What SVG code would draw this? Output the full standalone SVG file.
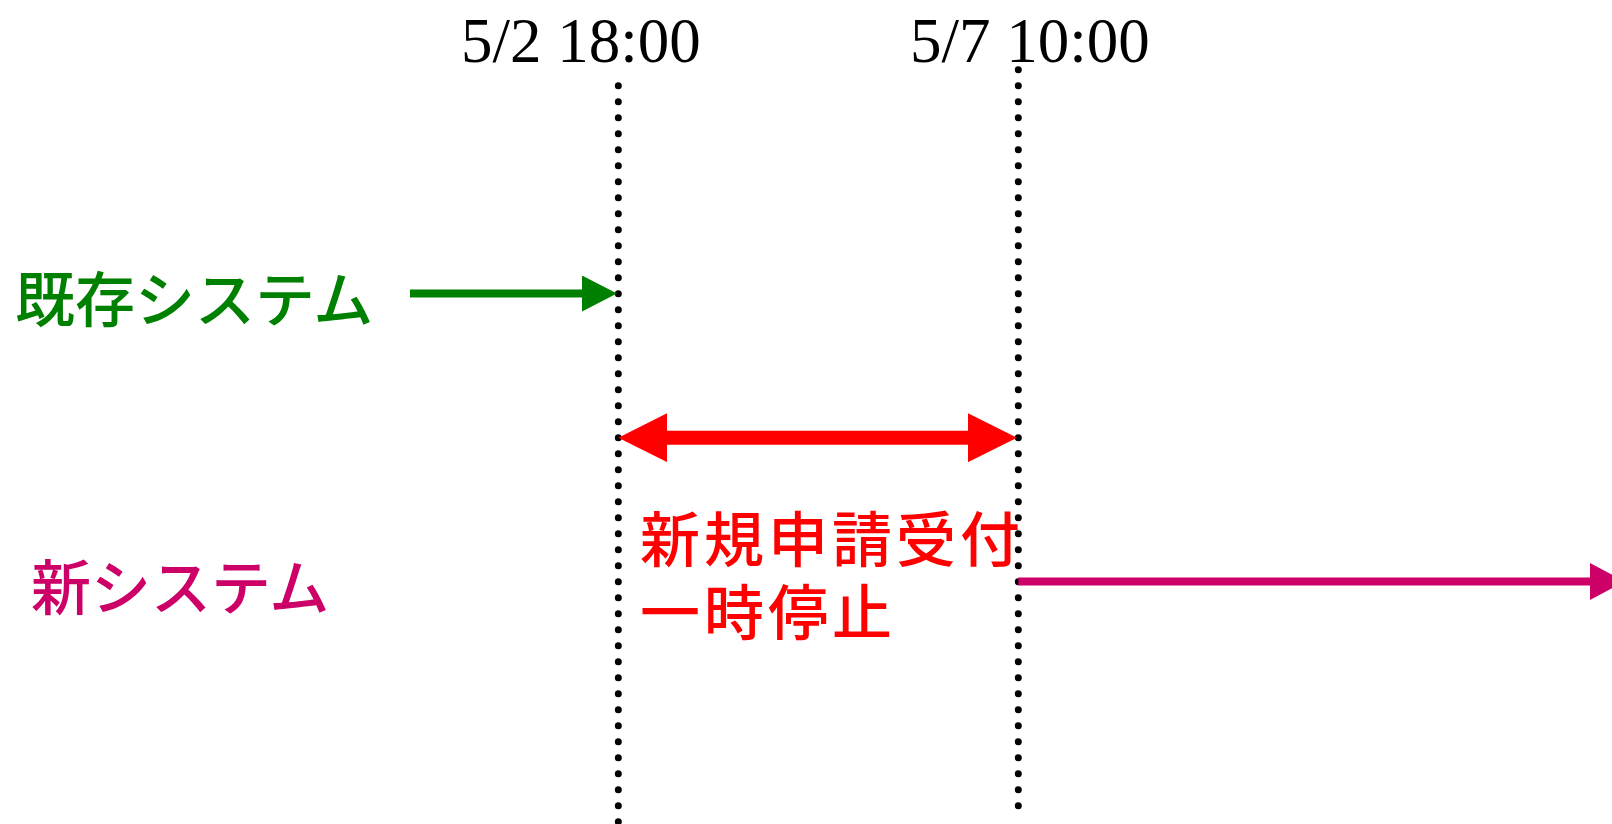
<svg xmlns="http://www.w3.org/2000/svg" width="1612" height="824" viewBox="0 0 1612 824">
  <style>
    .time { font-family: "Liberation Serif", "Times New Roman", serif; font-size: 63px; fill: #000; }
    .jp { font-family: "Noto Sans CJK JP", "Noto Sans", sans-serif; font-size: 60px; font-weight: 500; }
    .dot { fill: none; stroke: #000; stroke-width: 7; stroke-linecap: round; stroke-dasharray: 0 16; }
  </style>
  <defs>
    <marker id="mGreen" markerUnits="userSpaceOnUse" viewBox="0 0 35 36" refX="15" refY="18" markerWidth="35" markerHeight="36" orient="auto">
      <path d="M0 0 L35 18 L0 36 Z" fill="#008000"/>
    </marker>
    <marker id="mMag" markerUnits="userSpaceOnUse" viewBox="0 0 35 37" refX="15" refY="18.5" markerWidth="35" markerHeight="37" orient="auto">
      <path d="M0 0 L35 18.5 L0 37 Z" fill="#cc0066"/>
    </marker>
    <marker id="mRed" markerUnits="userSpaceOnUse" viewBox="0 0 49 49" refX="19" refY="24.5" markerWidth="49" markerHeight="49" orient="auto-start-reverse">
      <path d="M0 0 L49 24.5 L0 49 Z" fill="#ff0000"/>
    </marker>
  </defs>

  <g id="timeline-5-2">
    <text class="time" x="461" y="61.5">5/2 18:00</text>
    <path class="dot" d="M618.3 85.7 V 840"/>
  </g>

  <g id="timeline-5-7">
    <text class="time" x="910" y="61.5">5/7 10:00</text>
    <path class="dot" d="M1018.3 69.7 V 806"/>
  </g>

  <g id="existing-system">
    <text class="jp" x="15" y="322" fill="#008000">既存システム</text>
  </g>

  <g id="new-system">
    <text class="jp" x="31" y="610" fill="#cc0066">新システム</text>
  </g>

  <g id="suspension">
    <text class="jp" x="640" y="562" fill="#ff0000" letter-spacing="4">新規申請受付</text>
    <text class="jp" x="640" y="635" fill="#ff0000" letter-spacing="4">一時停止</text>
  </g>

  <g id="connectors">
    <path d="M410 293.5 H 597" stroke="#008000" stroke-width="8" fill="none" marker-end="url(#mGreen)"/>
    <path d="M648.3 437.7 H 987" stroke="#ff0000" stroke-width="14" fill="none" marker-start="url(#mRed)" marker-end="url(#mRed)"/>
    <path d="M1018.3 581.5 H 1605" stroke="#cc0066" stroke-width="8" fill="none" marker-end="url(#mMag)"/>
  </g>
</svg>
